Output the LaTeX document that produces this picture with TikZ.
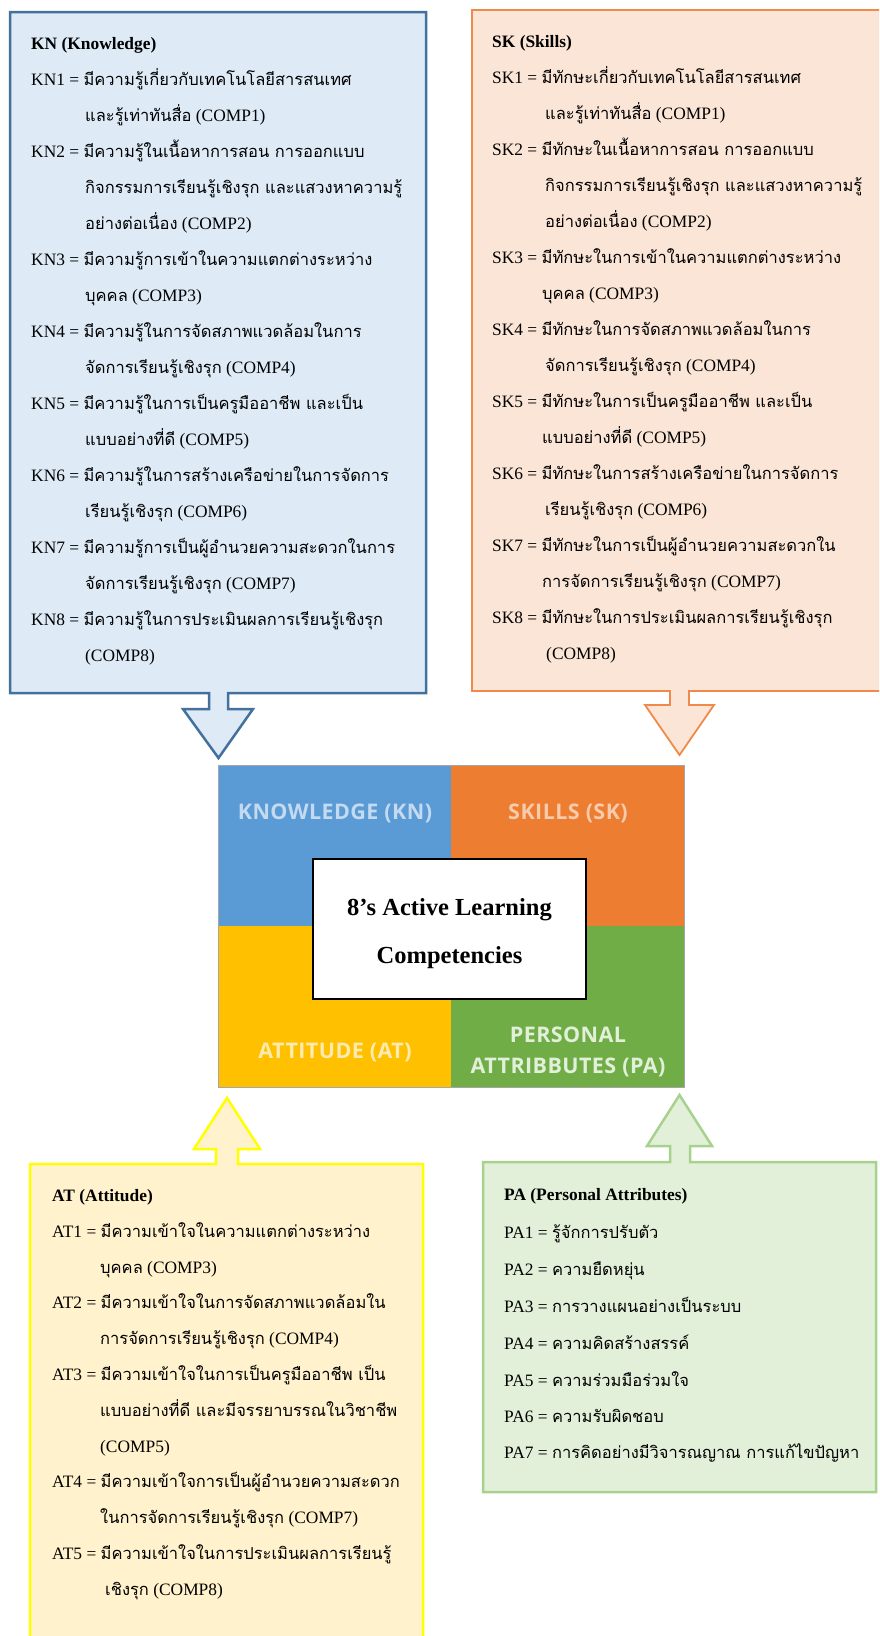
\documentclass[tikz,border=0pt]{standalone}
\usepackage{fontspec}
\setmainfont{Liberation Serif}
\newfontfamily\thaifont[Script=Thai]{Loma}
\newfontfamily\quadfont[LetterSpace=2]{Open Sans}
\newcommand\T[1]{{\thaifont\fontsize{16.5}{20}\selectfont #1}}

\definecolor{knfill}{HTML}{DEEBF7}
\definecolor{knline}{HTML}{41719C}
\definecolor{skfill}{HTML}{FBE5D6}
\definecolor{skline}{HTML}{F08A4B}
\definecolor{atfill}{HTML}{FFF2CC}
\definecolor{atline}{HTML}{FFFF00}
\definecolor{pafill}{HTML}{E2F0D9}
\definecolor{paline}{HTML}{A9D18E}
\definecolor{qblue}{HTML}{5B9BD5}
\definecolor{qorange}{HTML}{ED7D31}
\definecolor{qyellow}{HTML}{FFC000}
\definecolor{qgreen}{HTML}{70AD47}
\definecolor{lblue}{HTML}{C3DAF0}
\definecolor{lorange}{HTML}{F8CBAD}
\definecolor{lyellow}{HTML}{FFEBB0}
\definecolor{lgreen}{HTML}{E2F0D9}

\begin{document}
\begin{tikzpicture}[x=1pt,y=-1pt,
  body/.style={anchor=base west, inner sep=0pt, font=\fontsize{17.4}{21}\selectfont},
  head/.style={body, font=\bfseries\fontsize{17.4}{21}\selectfont},
  quad/.style={anchor=north west, inner sep=0pt, minimum width=233pt, minimum height=161pt},
  qlabel/.style={anchor=base, inner sep=0pt, font=\quadfont\bfseries\fontsize{21.5}{24}\selectfont},
  title/.style={anchor=base, inner sep=0pt, font=\bfseries\fontsize{24.5}{28}\selectfont},
  callout/.style={line width=2.5pt, line join=miter}
]
\useasboundingbox (0,0) rectangle (879,1636);
\clip (0,0) rectangle (879,1636);

% ---- callout boxes with their arrows ----
\draw[callout, draw=knline, fill=knfill]
  (10,12) -- (426,12) -- (426,693) -- (228,693) -- (228,709) -- (253,709)
  -- (218.5,758) -- (183,709) -- (209,709) -- (209,693) -- (10,693) -- cycle;
\draw[callout, line width=1.8pt, draw=skline, fill=skfill]
  (472,10) -- (884,10) -- (884,691) -- (689,691) -- (689,705) -- (714,705)
  -- (679.5,755) -- (645,705) -- (670,705) -- (670,691) -- (472,691) -- cycle;
\draw[callout, draw=atline, fill=atfill]
  (30,1164) -- (216,1164) -- (216,1149) -- (194,1149) -- (227,1098)
  -- (260,1149) -- (238,1149) -- (238,1164) -- (423,1164) -- (423,1650)
  -- (30,1650) -- cycle;
\draw[callout, draw=paline, fill=pafill]
  (483,1162) -- (670,1162) -- (670,1146) -- (647,1146) -- (679.5,1095)
  -- (712,1146) -- (690,1146) -- (690,1162) -- (876,1162) -- (876,1492)
  -- (483,1492) -- cycle;

% ---- central block of four competencies ----
\node[quad, fill=qblue] (qkn) at (218,765) {};
\node[quad, fill=qorange] (qsk) at (451,765) {};
\node[quad, fill=qyellow] (qat) at (218,926) {};
\node[quad, fill=qgreen] (qpa) at (451,926) {};
\draw[black!35, line width=0.8pt] (qkn.north west) rectangle (qpa.south east);

\node[qlabel, text=lblue] (lkn) at (335,819) {KNOWLEDGE (KN)};
\node[qlabel, text=lorange] (lsk) at (568,819) {SKILLS (SK)};
\node[qlabel, text=lyellow] (lat) at (335,1058) {ATTITUDE (AT)};
\node[qlabel, text=lgreen] (lpa1) at (568,1042) {PERSONAL};
\node[qlabel, text=lgreen] (lpa2) at (568,1073) {ATTRIBBUTES (PA)};

\node[draw=black, line width=2pt, fill=white, minimum width=273pt,
  minimum height=140pt, inner sep=0pt] (core) at (449.5,929) {};
\node[title] (core1) at (449.5,915) {8’s Active Learning};
\node[title] (core2) at (449.5,963) {Competencies};

% ---- KN list ----
\node[head] (kn0) at (31,49) {KN (Knowledge)};
\node[body] (kn1) at (31,85) {KN1 = \T{มีความรู้เกี่ยวกับเทคโนโลยีสารสนเทศ}};
\node[body] (kn2) at (85,121) {\T{และรู้เท่าทันสื่อ} (COMP1)};
\node[body] (kn3) at (31,157) {KN2 = \T{มีความรู้ในเนื้อหาการสอน การออกแบบ}};
\node[body] (kn4) at (85,193) {\T{กิจกรรมการเรียนรู้เชิงรุก และแสวงหาความรู้}};
\node[body] (kn5) at (85,229) {\T{อย่างต่อเนื่อง} (COMP2)};
\node[body] (kn6) at (31,265) {KN3 = \T{มีความรู้การเข้าในความแตกต่างระหว่าง}};
\node[body] (kn7) at (85,301) {\T{บุคคล} (COMP3)};
\node[body] (kn8) at (31,337) {KN4 = \T{มีความรู้ในการจัดสภาพแวดล้อมในการ}};
\node[body] (kn9) at (85,373) {\T{จัดการเรียนรู้เชิงรุก} (COMP4)};
\node[body] (kn10) at (31,409) {KN5 = \T{มีความรู้ในการเป็นครูมืออาชีพ และเป็น}};
\node[body] (kn11) at (85,445) {\T{แบบอย่างที่ดี} (COMP5)};
\node[body] (kn12) at (31,481) {KN6 = \T{มีความรู้ในการสร้างเครือข่ายในการจัดการ}};
\node[body] (kn13) at (85,517) {\T{เรียนรู้เชิงรุก} (COMP6)};
\node[body] (kn14) at (31,553) {KN7 = \T{มีความรู้การเป็นผู้อำนวยความสะดวกในการ}};
\node[body] (kn15) at (85,589) {\T{จัดการเรียนรู้เชิงรุก} (COMP7)};
\node[body] (kn16) at (31,625) {KN8 = \T{มีความรู้ในการประเมินผลการเรียนรู้เชิงรุก}};
\node[body] (kn17) at (85,661) {(COMP8)};

% ---- SK list ----
\node[head] (sk0) at (492,47) {SK (Skills)};
\node[body] (sk1) at (492,83) {SK1 = \T{มีทักษะเกี่ยวกับเทคโนโลยีสารสนเทศ}};
\node[body] (sk2) at (545,119) {\T{และรู้เท่าทันสื่อ} (COMP1)};
\node[body] (sk3) at (492,155) {SK2 = \T{มีทักษะในเนื้อหาการสอน การออกแบบ}};
\node[body] (sk4) at (545,191) {\T{กิจกรรมการเรียนรู้เชิงรุก และแสวงหาความรู้}};
\node[body] (sk5) at (545,227) {\T{อย่างต่อเนื่อง} (COMP2)};
\node[body] (sk6) at (492,263) {SK3 = \T{มีทักษะในการเข้าในความแตกต่างระหว่าง}};
\node[body] (sk7) at (542,299) {\T{บุคคล} (COMP3)};
\node[body] (sk8) at (492,335) {SK4 = \T{มีทักษะในการจัดสภาพแวดล้อมในการ}};
\node[body] (sk9) at (545,371) {\T{จัดการเรียนรู้เชิงรุก} (COMP4)};
\node[body] (sk10) at (492,407) {SK5 = \T{มีทักษะในการเป็นครูมืออาชีพ และเป็น}};
\node[body] (sk11) at (542,443) {\T{แบบอย่างที่ดี} (COMP5)};
\node[body] (sk12) at (492,479) {SK6 = \T{มีทักษะในการสร้างเครือข่ายในการจัดการ}};
\node[body] (sk13) at (545,515) {\T{เรียนรู้เชิงรุก} (COMP6)};
\node[body] (sk14) at (492,551) {SK7 = \T{มีทักษะในการเป็นผู้อำนวยความสะดวกใน}};
\node[body] (sk15) at (542,587) {\T{การจัดการเรียนรู้เชิงรุก} (COMP7)};
\node[body] (sk16) at (492,623) {SK8 = \T{มีทักษะในการประเมินผลการเรียนรู้เชิงรุก}};
\node[body] (sk17) at (546,659) {(COMP8)};

% ---- AT list ----
\node[head] (at0) at (52,1201) {AT (Attitude)};
\node[body] (at1) at (52,1237) {AT1 = \T{มีความเข้าใจในความแตกต่างระหว่าง}};
\node[body] (at2) at (100,1273) {\T{บุคคล} (COMP3)};
\node[body] (at3) at (52,1308) {AT2 = \T{มีความเข้าใจในการจัดสภาพแวดล้อมใน}};
\node[body] (at4) at (100,1344) {\T{การจัดการเรียนรู้เชิงรุก} (COMP4)};
\node[body] (at5) at (52,1380) {AT3 = \T{มีความเข้าใจในการเป็นครูมืออาชีพ เป็น}};
\node[body] (at6) at (100,1416) {\T{แบบอย่างที่ดี และมีจรรยาบรรณในวิชาชีพ}};
\node[body] (at7) at (100,1452) {(COMP5)};
\node[body] (at8) at (52,1487) {AT4 = \T{มีความเข้าใจการเป็นผู้อำนวยความสะดวก}};
\node[body] (at9) at (100,1523) {\T{ในการจัดการเรียนรู้เชิงรุก} (COMP7)};
\node[body] (at10) at (52,1559) {AT5 = \T{มีความเข้าใจในการประเมินผลการเรียนรู้}};
\node[body] (at11) at (105,1595) {\T{เชิงรุก} (COMP8)};

% ---- PA list ----
\node[head] (pa0) at (504,1200) {PA (Personal Attributes)};
\node[body] (pa1) at (504,1238) {PA1 = \T{รู้จักการปรับตัว}};
\node[body] (pa2) at (504,1275) {PA2 = \T{ความยืดหยุ่น}};
\node[body] (pa3) at (504,1312) {PA3 = \T{การวางแผนอย่างเป็นระบบ}};
\node[body] (pa4) at (504,1349) {PA4 = \T{ความคิดสร้างสรรค์}};
\node[body] (pa5) at (504,1386) {PA5 = \T{ความร่วมมือร่วมใจ}};
\node[body] (pa6) at (504,1422) {PA6 = \T{ความรับผิดชอบ}};
\node[body] (pa7) at (504,1458) {PA7 = \T{การคิดอย่างมีวิจารณญาณ การแก้ไขปัญหา}};
\end{tikzpicture}
\end{document}
